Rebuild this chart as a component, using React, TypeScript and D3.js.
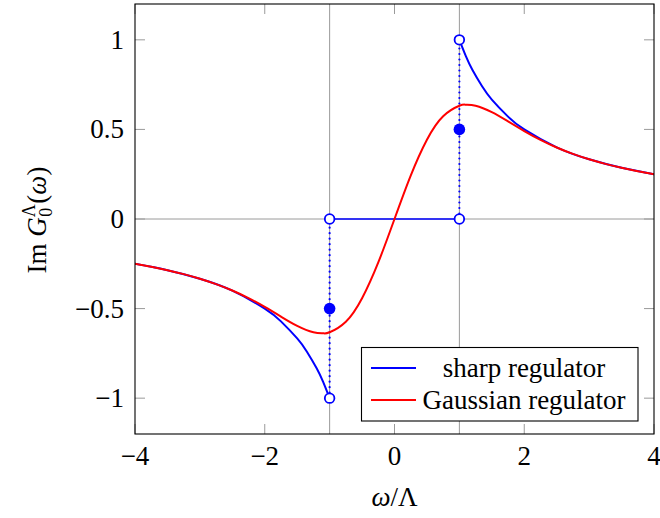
import React from "react";
import * as d3 from "d3";

// sharp regulator: Im G = 1/ω for |ω| > 1, 0 inside
const sharpOmega = [1, 1.1, 1.2, 1.35, 1.5, 1.75, 2, 2.5, 3, 3.5, 4];
const sharpValues = [1, 0.9091, 0.8333, 0.7407, 0.6667, 0.5714, 0.5, 0.4, 0.3333, 0.2857, 0.25];

// Gaussian regulator
const gaussOmega = [0, 0.25, 0.5, 0.75, 1, 1.1, 1.25, 1.5, 1.75, 2, 2.25, 2.5, 2.75, 3, 3.25, 3.5, 3.75, 4];
const gaussValues = [0, 0.2424, 0.4424, 0.5736, 0.6321, 0.638, 0.6323, 0.5964, 0.5447, 0.4908, 0.4416, 0.3992, 0.3635, 0.3333, 0.3077, 0.2857, 0.2667, 0.25];

const openMarkers = [[-1, 0], [-1, -1], [1, 0], [1, 1]];
const filledMarkers = [[-1, -0.5], [1, 0.5]];
const jumpSegments = [[-1, -1, 0], [1, 0, 1]];
const flatSegment = [[-1, 0], [1, 0]];

const xTicks = [-4, -2, 0, 2, 4];
const yTicks = [-1, -0.5, 0, 0.5, 1];
const gridX = [-1, 1];
const gridY = [0];
const legendLabels = ["sharp regulator", "Gaussian regulator"];

const W = 660;
const H = 518;
const L = 135, R = 654, T = 4, B = 434;
const FONT = "'Liberation Serif', 'Times New Roman', serif";
const BLUE = "#0000ff";
const RED = "#ff0000";
const GRAY = "#9a9a9a";
const FS = 27;

const fmt = (v: number) => (v < 0 ? "\u2212" + Math.abs(v) : String(v));

export default function App() {
  const x = d3.scaleLinear().domain([-4, 4]).range([L, R]);
  const y = d3.scaleLinear().domain([-1.2, 1.2]).range([B, T]);

  const line = d3
    .line<[number, number]>()
    .x((d) => x(d[0]))
    .y((d) => y(d[1]))
    .curve(d3.curveNatural);

  const sharpRight: [number, number][] = sharpOmega.map((w, i) => [w, sharpValues[i]]);
  const sharpLeft: [number, number][] = sharpOmega.map((w, i) => [-w, -sharpValues[i]]);
  const gaussRight: [number, number][] = gaussOmega.map((w, i) => [w, gaussValues[i]]);
  const gaussLeft: [number, number][] = gaussOmega
    .slice(1)
    .map((w, i) => [-w, -gaussValues[i + 1]] as [number, number])
    .reverse();
  const gaussAll = [...gaussLeft, ...gaussRight];

  const legX = 361.5, legY = 347.5, legW = 276.5, legH = 73.5;

  return (
    <svg width={W} height={H} style={{ position: "absolute", left: 0, top: 0 }} fontFamily={FONT}>
      <rect x={0} y={0} width={W} height={H} fill="#fff" />
      <defs>
        <clipPath id="plotclip">
          <rect x={L} y={T} width={R - L} height={B - T} />
        </clipPath>
      </defs>
      {/* grid lines */}
      {gridX.map((v) => (
        <line key={"gx" + v} x1={x(v)} x2={x(v)} y1={T} y2={B} stroke={GRAY} strokeWidth={1} />
      ))}
      {gridY.map((v) => (
        <line key={"gy" + v} x1={L} x2={R} y1={y(v)} y2={y(v)} stroke={GRAY} strokeWidth={1} />
      ))}
      {/* ticks */}
      {xTicks.map((v) => (
        <g key={"xt" + v}>
          <line x1={x(v)} x2={x(v)} y1={B} y2={B - 10} stroke={GRAY} strokeWidth={1} />
          <line x1={x(v)} x2={x(v)} y1={T} y2={T + 10} stroke={GRAY} strokeWidth={1} />
        </g>
      ))}
      {yTicks.map((v) => (
        <g key={"yt" + v}>
          <line x1={L} x2={L + 10} y1={y(v)} y2={y(v)} stroke={GRAY} strokeWidth={1} />
          <line x1={R} x2={R - 10} y1={y(v)} y2={y(v)} stroke={GRAY} strokeWidth={1} />
        </g>
      ))}
      <g clipPath="url(#plotclip)">
        {/* sharp regulator */}
        <path d={line(sharpLeft) || ""} fill="none" stroke={BLUE} strokeWidth={2} />
        <path d={line(sharpRight) || ""} fill="none" stroke={BLUE} strokeWidth={2} />
        <line
          x1={x(flatSegment[0][0])}
          x2={x(flatSegment[1][0])}
          y1={y(flatSegment[0][1])}
          y2={y(flatSegment[1][1])}
          stroke={BLUE}
          strokeWidth={1.3}
        />
        {jumpSegments.map(([w, a, b]) => (
          <line
            key={"j" + w}
            x1={x(w)}
            x2={x(w)}
            y1={y(a)}
            y2={y(b)}
            stroke={BLUE}
            strokeWidth={2.2}
            strokeDasharray="0 5.5"
            strokeLinecap="round"
          />
        ))}
        {/* gaussian */}
        <path d={line(gaussAll) || ""} fill="none" stroke={RED} strokeWidth={2} />
        {openMarkers.map(([a, b]) => (
          <circle key={"o" + a + b} cx={x(a)} cy={y(b)} r={4.8} fill="#fff" stroke={BLUE} strokeWidth={1.8} />
        ))}
        {filledMarkers.map(([a, b]) => (
          <circle key={"f" + a + b} cx={x(a)} cy={y(b)} r={5.8} fill={BLUE} />
        ))}
      </g>
      {/* frame */}
      <rect x={L} y={T} width={R - L} height={B - T} fill="none" stroke="#000" strokeWidth={1.1} />
      {/* tick labels */}
      {xTicks.map((v) => (
        <text key={"xl" + v} x={x(v)} y={465} fontSize={FS} textAnchor="middle">
          {fmt(v)}
        </text>
      ))}
      {yTicks.map((v) => (
        <text key={"yl" + v} x={124} y={y(v) + 9} fontSize={FS} textAnchor="end">
          {fmt(v)}
        </text>
      ))}
      {/* axis labels */}
      <text x={x(0)} y={506} fontSize={FS} textAnchor="middle">
        <tspan fontStyle="italic">ω</tspan>
        <tspan>/Λ</tspan>
      </text>
      <text transform={`translate(46,${220}) rotate(-90)`} fontSize={FS} textAnchor="middle">
        <tspan>Im </tspan>
        <tspan fontStyle="italic">G</tspan>
        <tspan fontSize={18} dy={-11}>Λ</tspan>
        <tspan fontSize={18} dx={-12.5} dy={17}>0</tspan>
        <tspan dx={4} dy={-6}>(</tspan>
        <tspan fontStyle="italic">ω</tspan>
        <tspan>)</tspan>
      </text>
      {/* legend */}
      <rect x={legX} y={legY} width={legW} height={legH} fill="#fff" stroke="#000" strokeWidth={1.1} />
      {legendLabels.map((lab, i) => {
        const cy = legY + 20.5 + i * 32;
        return (
          <g key={lab}>
            <line x1={legX + 9.5} x2={legX + 54.5} y1={cy} y2={cy} stroke={i === 0 ? BLUE : RED} strokeWidth={2} />
            <text x={524} y={cy + 8.5} fontSize={FS} textAnchor="middle">
              {lab}
            </text>
          </g>
        );
      })}
    </svg>
  );
}
